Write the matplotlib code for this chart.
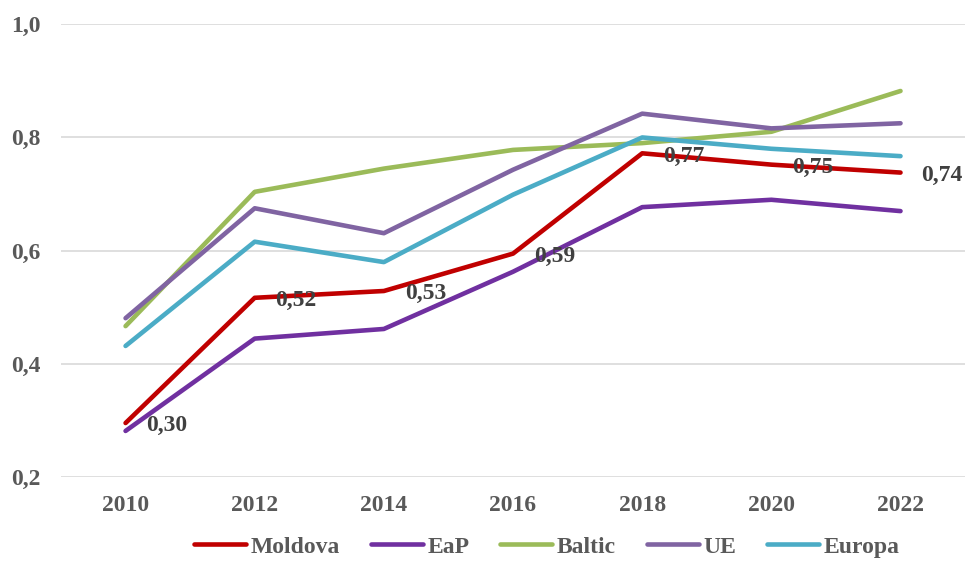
import matplotlib

matplotlib.use("Agg")
import matplotlib.pyplot as plt

plt.rcParams["font.family"] = ["Liberation Serif", "DejaVu Serif"]
plt.rcParams["font.weight"] = "bold"

years = [2010, 2012, 2014, 2016, 2018, 2020, 2022]
moldova = [0.296, 0.517, 0.529, 0.595, 0.772, 0.752, 0.738]
eap = [0.282, 0.445, 0.462, 0.563, 0.677, 0.690, 0.670]
baltic = [0.467, 0.704, 0.745, 0.778, 0.790, 0.810, 0.882]
ue = [0.481, 0.675, 0.631, 0.743, 0.842, 0.816, 0.825]
europa = [0.432, 0.616, 0.580, 0.699, 0.800, 0.780, 0.767]
moldova_labels = ["0,30", "0,52", "0,53", "0,59", "0,77", "0,75", "0,74"]
y_ticks = [0.2, 0.4, 0.6, 0.8, 1.0]
y_tick_labels = ["0,2", "0,4", "0,6", "0,8", "1,0"]

SERIES = [
    ("Moldova", moldova, "#C00000"),
    ("EaP", eap, "#7030A0"),
    ("Baltic", baltic, "#9BBB59"),
    ("UE", ue, "#8064A2"),
    ("Europa", europa, "#4BACC6"),
]
TXT = "#595959"
FS = 17

fig = plt.figure(figsize=(9.68, 5.61), dpi=100)
ax = fig.add_axes([0.063, 0.149, 0.934, 0.808])

for name, vals, col in SERIES:
    ax.plot(years, vals, color=col, lw=3.3, label=name, solid_capstyle="round", zorder=3)

# data labels for Moldova, to the right of each point
for x, y, s in zip(years, moldova, moldova_labels):
    ax.annotate(s, (x, y), xytext=(15, -2), textcoords="offset points",
                ha="left", va="center", fontsize=FS, fontweight="bold",
                color="#404040", zorder=5)

ax.set_xlim(2009, 2023)
ax.set_ylim(0.2, 1.0)
ax.set_xticks(years)
ax.set_xticklabels([str(y) for y in years])
ax.set_yticks(y_ticks)
ax.set_yticklabels(y_tick_labels)
ax.grid(axis="y", color="#DCDCDC", lw=1.3)
ax.set_axisbelow(True)
for sp in ax.spines.values():
    sp.set_visible(False)
ax.tick_params(length=0, labelsize=FS, colors=TXT)
ax.tick_params(axis="x", pad=13)
ax.tick_params(axis="y", pad=15)
for lab in ax.get_xticklabels() + ax.get_yticklabels():
    lab.set_fontweight("bold")

leg = fig.legend(loc="center", bbox_to_anchor=(0.565, 0.025), ncol=5, frameon=False,
                 handlelength=2.2, handletextpad=0.2, columnspacing=1.3,
                 prop={"weight": "bold", "size": FS})
for t in leg.get_texts():
    t.set_color(TXT)

fig.savefig("out.png", dpi=100)
